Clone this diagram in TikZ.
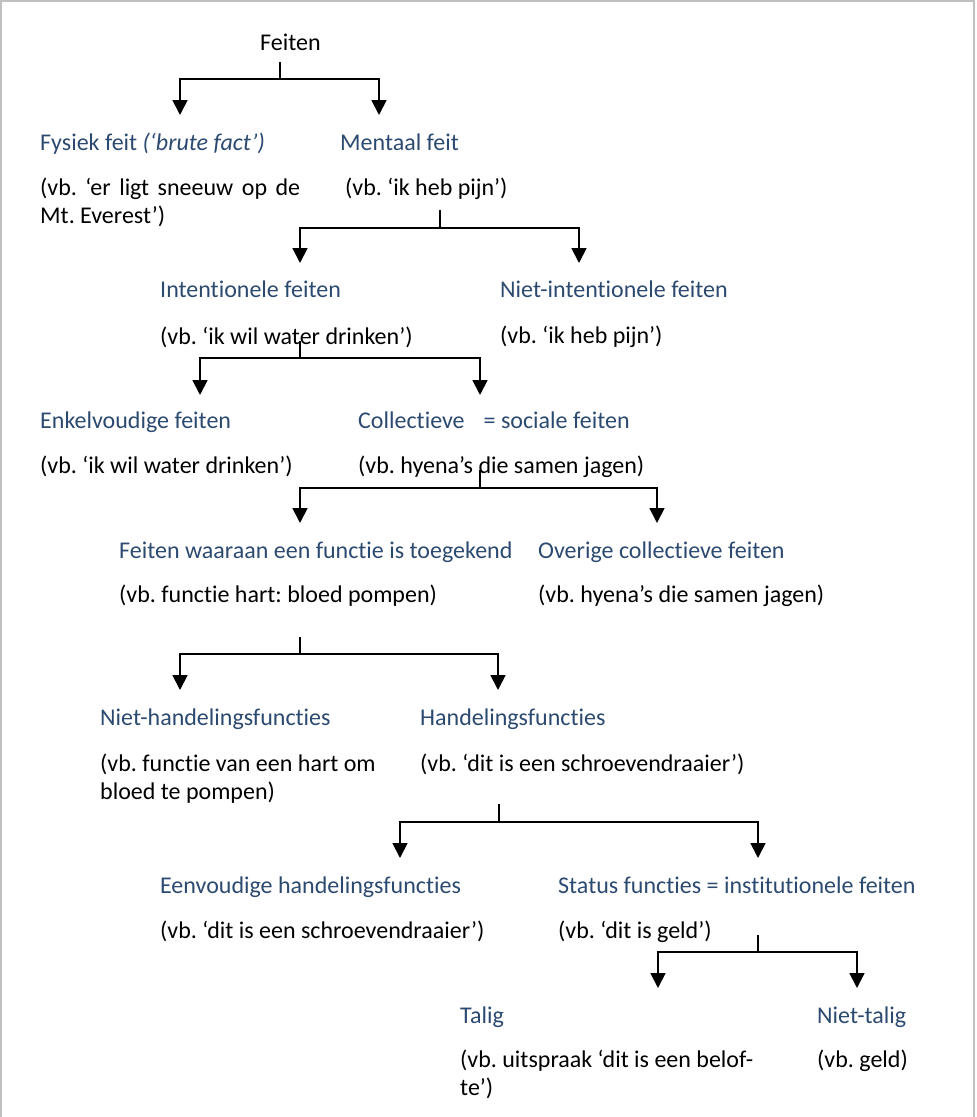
\documentclass[tikz,border=0pt]{standalone}
\usepackage{fontspec}
\setmainfont{Carlito}[Ligatures=NoCommon]
\usetikzlibrary{arrows.meta}
\definecolor{headblue}{RGB}{44,74,112}
\definecolor{framegray}{RGB}{192,192,192}
\frenchspacing
\tikzset{
  every node/.style={font=\fontsize{24}{28.5}\selectfont, inner sep=0pt, anchor=base west},
  head/.style={text=headblue},
  body/.style={text=black},
  conn/.style={line width=1.8pt},
  arr/.style={conn, -{Triangle[width=15pt,length=15pt]}},
  frameline/.style={draw=framegray, line width=2pt}
}
\begin{document}
\begin{tikzpicture}[x=1pt,y=-1pt]
\useasboundingbox (0,0) rectangle (977,1117);
% page frame (open at the bottom)
\draw[frameline] (1,1120) -- (1,1) -- (974,1) -- (974,1120);

% --- texts ---
\node[body] (feiten) at (260,50) {Feiten};

\node[head] (fysiek) at (40,150) {Fysiek feit \textit{(‘brute fact’)}};
\node[head] (mentaal) at (340,150) {Mentaal feit};
\node[body] (exfysiek) at (40,195) {\parbox[t]{260pt}{\makebox[\linewidth][s]{(vb. ‘er ligt sneeuw op de}\\Mt. Everest’)}};
\node[body] (exmentaal) at (345,195) {(vb. ‘ik heb pijn’)};

\node[head] (intent) at (160,297) {Intentionele feiten};
\node[head] (nietintent) at (500,297) {Niet-intentionele feiten};
\node[body] (exintent) at (160,344) {(vb. ‘ik wil water drinken’)};
\node[body] (exnietintent) at (500,343) {(vb. ‘ik heb pijn’)};

\node[head] (enkel) at (40,428) {Enkelvoudige feiten};
\node[head] (collect) at (358,428) {Collectieve\hspace{19pt}= sociale feiten};
\node[body] (exenkel) at (40,473) {(vb. ‘ik wil water drinken’)};
\node[body] (excollect) at (358,473) {(vb. hyena’s die samen jagen)};

\node[head] (functie) at (119,558) {Feiten waaraan een functie is toegekend};
\node[head] (overig) at (538,558) {Overige collectieve feiten};
\node[body] (exfunctie) at (119,602) {(vb. functie hart: bloed pompen)};
\node[body] (exoverig) at (538,602) {(vb. hyena’s die samen jagen)};

\node[head] (niethand) at (100,725) {Niet-handelingsfuncties};
\node[head] (hand) at (420,725) {Handelingsfuncties};
\node[body] (exniethand) at (100,771) {\parbox[t]{300pt}{(vb. functie van een hart om\\bloed te pompen)}};
\node[body] (exhand) at (420,771) {(vb. ‘dit is een schroevendraaier’)};

\node[head] (eenv) at (160,893) {Eenvoudige handelingsfuncties};
\node[head] (status) at (558,893) {Status functies = institutionele feiten};
\node[body] (exeenv) at (160,938) {(vb. ‘dit is een schroevendraaier’)};
\node[body] (exstatus) at (558,938) {(vb. ‘dit is geld’)};

\node[head] (talig) at (460,1023) {Talig};
\node[head] (niettalig) at (817,1023) {Niet-talig};
\node[body] (extalig) at (460,1067) {\parbox[t]{320pt}{(vb. uitspraak ‘dit is een belof-\\te’)}};
\node[body] (exniettalig) at (817,1067) {(vb. geld)};

% --- branch points and arrow ends ---
\coordinate (s1) at (280,62);  \coordinate (j1) at (280,79);
\coordinate (a1l) at (180,115); \coordinate (a1r) at (379,115);
\coordinate (s2) at (440,210); \coordinate (j2) at (440,228);
\coordinate (a2l) at (300,263); \coordinate (a2r) at (579,263);
\coordinate (s3) at (300,341); \coordinate (j3) at (300,358);
\coordinate (a3l) at (200,395); \coordinate (a3r) at (480,395);
\coordinate (s4) at (480,470); \coordinate (j4) at (480,488);
\coordinate (a4l) at (300,523); \coordinate (a4r) at (657,523);
\coordinate (s5) at (300,637); \coordinate (j5) at (300,654);
\coordinate (a5l) at (180,690); \coordinate (a5r) at (498,690);
\coordinate (s6) at (499,804); \coordinate (j6) at (499,822);
\coordinate (a6l) at (400,858); \coordinate (a6r) at (758,858);
\coordinate (s7) at (758,935); \coordinate (j7) at (758,952);
\coordinate (a7l) at (658,988); \coordinate (a7r) at (857,988);

% --- forks ---
\foreach \i in {1,...,7}{
  \draw[conn] (s\i) -- (j\i);
  \draw[arr] (j\i) -| (a\i l);
  \draw[arr] (j\i) -| (a\i r);
}
\end{tikzpicture}
\end{document}
